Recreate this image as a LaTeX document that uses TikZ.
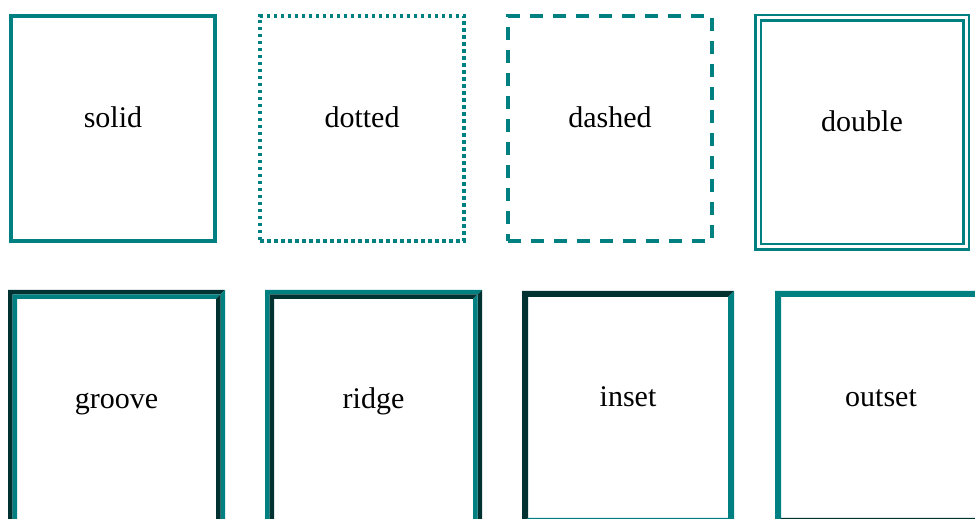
\documentclass[tikz,border=0pt]{standalone}
\usepackage{fontspec}
\setmainfont{Liberation Serif}
\usetikzlibrary{calc}
\definecolor{tealescuro}{RGB}{0,50,50}

% moldura chanfrada: no, recuo externo, recuo interno, cor sup/esq, cor inf/dir
\newcommand{\moldura}[5]{%
  \fill[#4] ($(#1.north east)+(-#2,-#2)$) -- ($(#1.north west)+(#2,-#2)$)
    -- ($(#1.south west)+(#2,#2)$) -- ($(#1.south west)+(#3,#3)$)
    -- ($(#1.north west)+(#3,-#3)$) -- ($(#1.north east)+(-#3,-#3)$) -- cycle;
  \fill[#5] ($(#1.north east)+(-#2,-#2)$) -- ($(#1.south east)+(-#2,#2)$)
    -- ($(#1.south west)+(#2,#2)$) -- ($(#1.south west)+(#3,#3)$)
    -- ($(#1.south east)+(-#3,#3)$) -- ($(#1.north east)+(-#3,-#3)$) -- cycle;
}

\tikzset{
  linha/.style={draw=teal, line width=4pt, inner sep=0pt,
    minimum width=204pt, minimum height=225pt},
  pontilhada/.style={linha, dash pattern=on 3.5pt off 3.5pt},
  tracejada/.style={linha, dash pattern=on 13pt off 10pt},
  dupla/.style={draw=teal, double=white, double distance=3pt, line width=2.5pt,
    inner sep=0pt, minimum width=208pt, minimum height=229pt},
  relevo/.style={inner sep=0pt, outer sep=0pt, minimum width=217pt, minimum height=239pt},
  chanfro/.style={inner sep=0pt, outer sep=0pt, minimum width=212pt, minimum height=233pt},
  rotulo/.style={font=\fontsize{30}{36}\selectfont, anchor=base, inner sep=0pt}
}

\begin{document}
\begin{tikzpicture}[x=1pt,y=1pt]
    \clip (0,0) rectangle (975,519);
    % Linha de cima
    \node[linha] (solid) at (113,390.5) {};
    \node[pontilhada] (dotted) at (362,390.5) {};
    \node[tracejada] (dashed) at (610,390.5) {};
    \node[dupla] (double) at (862,386.5) {};
    % Linha de baixo
    \node[relevo] (groove) at (116.5,109.5) {};
    \node[relevo] (ridge) at (373.5,109.5) {};
    \node[chanfro] (inset) at (628,111.5) {};
    \node[chanfro] (outset) at (881,111.5) {};
    % Bordas
    \moldura{groove}{0}{4.5}{tealescuro}{teal}
    \moldura{groove}{4.5}{9}{teal}{tealescuro}
    \moldura{ridge}{0}{4.5}{teal}{tealescuro}
    \moldura{ridge}{4.5}{9}{tealescuro}{teal}
    \moldura{inset}{0}{6}{tealescuro}{teal}
    \moldura{outset}{0}{6}{teal}{tealescuro}
    % Textos
    \foreach \nome in {solid, dotted, dashed, double, groove, ridge, inset, outset}
        \node[rotulo] (t\nome) at ([yshift=0.5pt]\nome.center) {\nome};
\end{tikzpicture}
\end{document}
